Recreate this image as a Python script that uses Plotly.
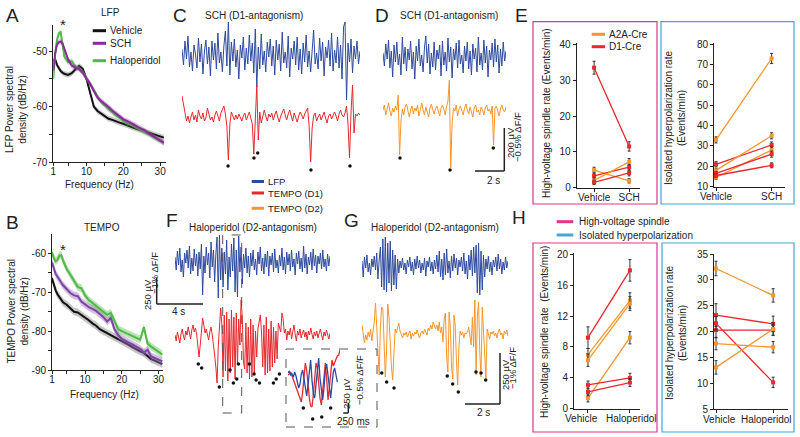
import plotly.graph_objects as go

W, H = 800, 437
def fx(p): return p / W
def fy(p): return 1 - p / H

# ---------------- DATA ----------------
freq = [1, 1.5, 2, 2.5, 3, 3.5, 4, 5, 6, 7, 8, 9, 10, 11, 12, 13, 14, 15, 16, 17, 18,
        19, 20, 21, 22, 23, 24, 25, 26, 27, 28, 29, 30, 31]

lfp_vehicle = [-51.8, -51.5, -52.5, -53.2, -53.6, -53.9, -54.1, -54.3, -54.0, -53.3, -52.7, -53.2,
               -55.0, -57.5, -60.0, -60.8, -61.3, -61.8, -62.2, -62.4, -62.7, -62.9, -63.1, -63.4,
               -63.6, -63.9, -64.1, -64.3, -64.5, -64.8, -65.0, -65.2, -65.4, -65.6]
lfp_sch = [-53.5, -50.5, -48.8, -48.4, -48.3, -48.6, -49.6, -51.5, -52.6, -53.0, -53.2, -53.9,
           -55.0, -55.9, -57.2, -58.4, -59.0, -59.5, -60.1, -60.7, -61.2, -61.8, -62.3, -62.6,
           -62.9, -63.3, -63.7, -64.0, -64.4, -64.9, -65.3, -65.7, -66.1, -66.5]
lfp_halo = [-55.0, -50.5, -48.0, -46.8, -46.6, -48.5, -51.0, -52.0, -51.8, -52.8, -53.2, -53.8,
            -54.8, -55.8, -57.0, -58.2, -59.2, -59.8, -60.5, -61.0, -61.6, -62.0, -62.5, -63.0,
            -63.2, -63.6, -64.0, -64.3, -64.7, -65.0, -65.4, -65.8, -66.2, -66.6]
lfp_sem = 0.5

tempo_vehicle = [-66.4, -68.0, -69.5, -70.5, -71.3, -72.0, -72.6, -73.2, -74.0, -75.0, -75.2, -75.8,
                 -76.4, -77.2, -78.0, -78.6, -79.5, -80.0, -80.4, -80.9, -81.6, -82.1, -82.5, -83.0,
                 -83.6, -84.2, -84.8, -85.2, -85.6, -86.5, -87.2, -87.6, -88.0, -88.5]
tempo_sch = [-62.3, -64.0, -65.3, -66.0, -66.6, -67.5, -68.2, -69.3, -70.2, -70.8, -71.0, -72.4,
             -73.2, -73.8, -74.3, -74.8, -75.6, -76.4, -77.5, -76.6, -79.5, -81.0, -82.0, -82.6,
             -83.0, -83.5, -84.0, -84.6, -85.5, -84.8, -86.5, -87.0, -87.4, -87.8]
tempo_halo = [-59.7, -61.2, -62.0, -61.6, -60.6, -60.4, -61.8, -64.0, -65.5, -67.0, -68.6, -69.0,
              -70.8, -72.0, -72.8, -73.5, -74.2, -75.0, -75.8, -75.3, -77.6, -79.5, -80.0, -80.4,
              -81.0, -81.2, -81.8, -82.2, -79.0, -83.2, -84.0, -84.6, -85.2, -86.0]
tempo_sem = 1.0

# Raw traces (arbitrary units)
C_lfp = [6, -10, 14, -4, 19, -12, 3, -16, 10, 1, -13, 17, -7, 11, -19, 4, 15, -9, 8, -21,
         14, -5, 12, -14, 22, -8, 3, -17, 9, 24, -11, 33, -20, 13, -6, 16, -12, 5, -24, 10,
         -3, 18, -15, 7, -9, 20, -6, 12, -18, 26, -32, 8, -14, 21, -10, 4, -17, 13, -2, 16,
         -11, 9, -20, 15, -5, 11, -16, 23, -8, 3, -13, 19, -22, 7, -4, 14, -10, 18, -15, 6,
         -19, 12, -7, 20, -12, 4, -17, 10, 25, -9, 2, -14, 17, -6, 13, -21, 8, -3, 15, -11,
         22, -16, 5, -8, 18, -13, 10, -24, 28, 33, -45, 12, -7, 16, -18, 9, -4, 14, -9, 4]
C_tempo = [22, 12, 4, -3, 2, -5, 1, 6, -2, 3, -4, 8, 2, -1, 5, -3, 0, 10, 4, -2,
           1, -4, 3, 7, 2, -3, 5, 9, 12, 4, -8, -42, -6, 6, 2, -2, 3, -1, 4, 0,
           -3, 2, 5, -2, 3, 6, 0, -6, -36, 4, 33, -22, 6, -5, 3, 8, 2, -3, 4, 1,
           5, -2, 3, 7, 1, -4, 2, 6, 9, 3, -2, 4, 8, 2, -3, 5, 1, -4, 2, 6,
           3, -1, 4, 7, 10, -8, -44, -10, 2, 5, -3, 1, 4, -2, 3, 6, 0, -5, 2, 4,
           -1, 3, 6, 2, -3, 4, 8, 3, 1, 5, 12, -6, -40, 6, 33, -15, 4, 2, 5, 3]
C_dots_x = [30.8, 48.1, 50.6, 86.2, 112.3]
C_dots_y = [-48, -40, -35, -52, -48]

D_lfp = [4, -9, 13, -2, 17, -11, 6, -20, 12, -5, 15, -8, 3, -18, 20, -7, 10, -14, 8, -3,
         16, -12, 5, -22, 11, -4, 18, -9, 2, -15, 9, 21, -6, 13, -17, 4, -10, 15, -13, 7,
         -2, 12, -19, 16, -8, 5, -14, 19, -5, 10, -21, 8, -3, 14, -11, 17, -7, 2, -16, 11,
         -4, 15, -12, 6, -18, 13, -2, 9, -15, 20, -8, 4, -13, 17, -6, 11, -20, 7, -3, 14,
         -10, 18, -5, 12, -16, 8, -9, 15, -4, 6]
D_tempo = [3, 8, -2, 4, 10, 2, -3, 5, 1, 7, 3, 18, -42, -8, 4, -2, 6, 9, 2, -4,
           3, 7, -1, 5, 2, 8, -3, 4, 10, 3, -2, 6, 1, -4, 5, 9, 3, -1, 4, 7,
           2, -3, 5, 8, 4, -2, 6, 12, 33, -55, -10, 5, 2, 8, -3, 4, 7, 1, -2, 5,
           9, 3, -1, 6, 2, -4, 5, 8, 1, 3, -2, 6, 3, -2, 5, 8, 2, 4, -1, 7,
           -32, 5, 7, 2, -3, 4, 8, 3, 1, 6]
D_dots_x = [12.3, 48.5, 79.8]
D_dots_y = [-45, -57, -35]

F_lfp = [5, -8, 11, -3, 14, -10, 2, -15, 9, -1, 12, -6, 16, -12, 4, -9, 13, -4, 8, -14,
         10, -7, 18, -33, 6, -11, 15, -3, 9, -16, 20, -5, 12, -20, 8, 25, -36, 27, -18, 14,
         -25, 10, -12, 22, -28, 5, -15, 18, -9, 24, -30, 12, -35, 26, -10, 15, -22, 8, -6, 14,
         -11, 6, -15, 9, -4, 12, -8, 3, -13, 10, -2, 15, -9, 4, -12, 8, -5, 11, -14, 6,
         -3, 9, -10, 13, -6, 2, -11, 7, -4, 14, -8, 5, -12, 10, -3, 8, -9, 12, -5, 3,
         -13, 9, -2, 11, -7, 4, -10, 16, -6, 8, -12, 5, -3, 10, -8, 13, -4, 7, -11, 6,
         -2, 9, -7, 12, -5, 3, -9, 8, -4, 6]
F_tempo = [2, -4, 5, 0, -6, 3, 8, 1, -3, 6, 2, 10, 4, -2, 7, 12, 5, 9, 3, -12,
           -20, -8, 6, 19, 12, 4, 8, 2, -3, 5, 10, 2, -6, -18, -30, -46, -10, 15, 29, 12,
           -40, 22, -34, 25, -44, 18, -36, 27, -30, 20, -42, 24, -28, 18, -8, 37, 20, -25, -32, 14,
           -36, 10, -42, 18, -40, 12, -38, 6, -20, 8, 15, 22, 5, -30, 12, -38, 20, -36, 8, -34,
           16, -30, 10, -26, 6, -22, 14, 10, 5, 24, 18, 4, 8, -3, 6, 2, 9, -2, 5, 12,
           3, -4, 6, 2, 8, -1, 4, 7, 0, 5, -3, 6, 2, 9, 3, -2, 5, 1, 6, -1,
           4, 8, 2, -3, 5, 1, 7, 3, -2, 4]
F_dots_x = [19.4, 22.2, 36.9, 45.8, 48.6, 51.4, 52.8, 61.9, 65.8, 67.5, 70.3, 81.9, 84.2, 86.9]
F_dots_y = [-27, -31, -50, -33, -46, -42, -27, -27, -37, -43, -46, -46, -42, -37]

G_lfp = [4, -12, 8, -3, 10, -7, 2, -10, 6, -2, 9, -5, 12, -14, 5, 18, -22, 26, -25, 28,
         -27, 22, -18, 24, -26, 15, -20, 10, -24, 6, -8, 4, -3, 7, -5, 2, -9, 5, -2, 8,
         -6, 3, -10, 6, -4, 9, -3, 5, -8, 2, -5, 7, -11, 4, -2, 8, -6, 3, -9, 5,
         -4, 10, -7, 14, -12, 6, -15, 12, -10, 16, -8, 4, -13, 9, -6, 11, -3, 7, -10, 5,
         -2, 8, -6, 12, -9, 4, -14, 10, -5, 15, -11, 18, -8, 20, -28, 22, -30, 14, -25, 10,
         -12, 6, -4, 9, -7, 3, -10, 5, -2, 8, -6, 11, -4, 6, -9, 3, -5, 8, -3, 4]
G_tempo = [12, 4, -6, 2, -3, 5, 0, 8, -4, 6, 15, 34, 5, -20, -38, 10, 30, 28, -10, -40,
           -15, 33, 20, -8, -30, -43, -10, 8, 4, 10, 14, 6, 3, -1, 4, 2, 5, 0, 3, 6,
           -2, 4, 1, 5, 3, 7, 2, -1, 4, 6, 3, 8, 5, 2, 9, 6, 12, 8, 15, 10,
           8, 12, 6, 15, 4, 10, -5, 18, 24, -20, -35, 25, 10, -30, -42, 22, 12, -25, -48, -10,
           6, 2, 5, -1, 4, 3, 5, 10, 3, -8, 20, -10, 37, -38, 20, 35, -15, -40, 30, 10,
           -20, -41, 8, 4, -2, 5, 3, 6, 1, 4, -1, 5, 8, 2, 4, -2, 6, 3, 7, 1]
G_dots_x = [16.1, 20.1, 26.1, 69.5, 73.9, 78.5, 92.9, 97.0, 100.8]
G_dots_y = [-36, -45, -51, -39, -47, -55, -35, -36, -43]

inset_tempo = [5, 6, 8, 4, 2, -2, -6, -10, -14, -18, -22, -12, 2, 17, 10, -5, -18, -26, -27, -15,
               5, 17, 12, -5, -18, -25, -10, 8, 17, 2, -20, -8, 10, 20, 14, 18, 22, 24, 25, 30]
inset_lfp = [7, 9, 5, 6, 3, 8, 4, -2, -8, -4, 6, 10, 2, -10, -16, -5, 10, 20, 0, -14,
             -18, -6, 12, 22, 2, -12, -20, -8, 10, 16, 4, -10, -18, -4, 8, 12, 6, -2]
inset_dots_x = [11.5, 18.5, 25.3, 32.0]
inset_dots_y = [-28, -39, -37, -28]

# Panel E / H (paired rates)
E_groups = ["A2A-Cre", "D1-Cre"]
E_categories = ["Vehicle", "SCH"]
H_categories = ["Vehicle", "Haloperidol"]
E_line_type = ["D1", "A2A", "D1", "A2A", "D1"]
E_hvs_vehicle = [33.5, 4.9, 3.3, 2.0, 1.5]
E_hvs_sch = [11.5, 1.9, 5.7, 7.2, 4.1]
E_hvs_err_v = [1.8, 0.8, 0.8, 0.8, 0.6]
E_hvs_err_s = [1.3, 0.6, 0.8, 0.9, 0.8]

E_ih_type = ["A2A", "D1", "A2A", "A2A", "D1", "D1"]
E_ih_vehicle = [33.0, 21.0, 18.0, 14.5, 16.5, 15.5]
E_ih_sch = [73.0, 30.5, 35.0, 28.0, 26.0, 20.5]
E_ih_err_v = [1.5, 1.3, 1.0, 1.0, 1.0, 1.0]
E_ih_err_s = [2.5, 1.5, 1.5, 1.5, 1.5, 1.2]

H_hvs_type = ["D1", "A2A", "A2A", "A2A", "D1", "D1"]
H_hvs_vehicle = [9.2, 7.0, 6.3, 1.4, 3.1, 2.2]
H_hvs_halo = [17.9, 14.0, 13.6, 9.2, 4.0, 3.4]
H_hvs_err_v = [1.4, 0.8, 0.8, 0.5, 0.5, 0.5]
H_hvs_err_h = [1.4, 1.0, 0.9, 0.8, 0.6, 0.5]

H_ih_type = ["A2A", "D1", "D1", "D1", "A2A", "A2A"]
H_ih_vehicle = [32.2, 23.2, 20.3, 21.6, 17.7, 13.1]
H_ih_halo = [27.0, 21.5, 20.3, 10.2, 17.0, 20.5]
H_ih_err_v = [1.4, 2.2, 1.5, 1.3, 1.2, 1.3]
H_ih_err_h = [1.3, 1.5, 1.0, 1.0, 1.1, 1.2]

# ---------------- STYLE ----------------
C_BLACK = "#111111"
C_PURPLE = "#8a2a9c"
C_PURPLE_B = "#7d44a8"
C_GREEN = "#52b848"
C_LFP = "#2e4a9f"
C_RED = "#e8282e"
C_ORANGE = "#f7962b"
C_MAG = "#e2348a"
C_CYAN = "#3fa8dc"
TYPE_COL = {"D1": C_RED, "A2A": C_ORANGE}
FONT = "Arial"

fig = go.Figure()
layout = {}
shapes = []
ann = []


def add_axes(n, xd, yd, xr, yr, visible=False, xkw=None, ykw=None):
    s = "" if n == 1 else str(n)
    xa = dict(domain=[fx(xd[0]), fx(xd[1])], range=xr, anchor="y" + s, visible=visible,
              showgrid=False, zeroline=False, fixedrange=True, automargin=False)
    ya = dict(domain=[fy(yd[1]), fy(yd[0])], range=yr, anchor="x" + s, visible=visible,
              showgrid=False, zeroline=False, fixedrange=True, automargin=False)
    if xkw:
        xa.update(xkw)
    if ykw:
        ya.update(ykw)
    layout["xaxis" + s] = xa
    layout["yaxis" + s] = ya
    return "x" + s, "y" + s


def vis_axis(**kw):
    d = dict(showline=True, linecolor="#222", linewidth=1, ticks="outside", ticklen=3,
             tickcolor="#222", tickangle=0,
             tickfont=dict(size=10, color="#222", family=FONT))
    d.update(kw)
    return d


def text(x, y, s, size=10, angle=0, color="#222", xanchor="center"):
    ann.append(dict(x=fx(x), y=fy(y), xref="paper", yref="paper", text=s, showarrow=False,
                    font=dict(size=size, color=color, family=FONT), textangle=angle,
                    xanchor=xanchor, yanchor="middle"))


def line(x0, y0, x1, y1, color="#222", width=1, dash=None):
    shapes.append(dict(type="line", xref="paper", yref="paper", x0=fx(x0), y0=fy(y0),
                       x1=fx(x1), y1=fy(y1), line=dict(color=color, width=width, dash=dash)))


def rect(x0, y0, x1, y1, color, width=1.2, dash=None):
    shapes.append(dict(type="rect", xref="paper", yref="paper", x0=fx(x0), y0=fy(y1),
                       x1=fx(x1), y1=fy(y0), line=dict(color=color, width=width, dash=dash)))


# ---------------- Panel A ----------------
xa, ya = add_axes(1, (53.3, 165.7), (25, 162), [1, 31.5], [-70, -45.3], True,
                  vis_axis(tickvals=[1, 5, 10, 15, 20, 25, 30],
                           ticktext=["1", "", "10", "", "20", "", "30"], ticklabelstandoff=-3),
                  vis_axis(tickvals=[-70, -65, -60, -55, -50],
                           ticktext=["-70", "", "-60", "", "-50"]))


def band(xa_, ya_, xs, ys, sem, col):
    up = [v + sem for v in ys]
    lo = [v - sem for v in ys]
    fig.add_trace(go.Scatter(x=xs, y=up, xaxis=xa_, yaxis=ya_, mode="lines",
                             line=dict(width=0, color=col), showlegend=False, hoverinfo="skip"))
    fig.add_trace(go.Scatter(x=xs, y=lo, xaxis=xa_, yaxis=ya_, mode="lines", fill="tonexty",
                             fillcolor=col, line=dict(width=0, color=col), showlegend=False,
                             hoverinfo="skip"))


for ys, c, bc in [(lfp_vehicle, C_BLACK, "rgba(150,150,150,0.5)"),
                  (lfp_halo, C_GREEN, "rgba(82,184,72,0.35)"),
                  (lfp_sch, C_PURPLE, "rgba(138,42,156,0.3)")]:
    band(xa, ya, freq, ys, lfp_sem, bc)
    fig.add_trace(go.Scatter(x=freq, y=ys, xaxis=xa, yaxis=ya, mode="lines",
                             line=dict(color=c, width=2), showlegend=False))

# ---------------- Panel B ----------------
xb, yb = add_axes(2, (52, 163), (234, 370), [1, 31.2], [-90, -55], True,
                  vis_axis(tickvals=[1, 5, 10, 15, 20, 25, 30],
                           ticktext=["1", "", "10", "", "20", "", "30"], ticklabelstandoff=-3),
                  vis_axis(tickvals=[-90, -85, -80, -75, -70, -65, -60],
                           ticktext=["-90", "", "-80", "", "-70", "", "-60"]))
for ys, c, bc in [(tempo_vehicle, C_BLACK, "rgba(150,150,150,0.55)"),
                  (tempo_sch, C_PURPLE_B, "rgba(160,110,190,0.45)"),
                  (tempo_halo, C_GREEN, "rgba(82,184,72,0.4)")]:
    band(xb, yb, freq, ys, tempo_sem, bc)
    fig.add_trace(go.Scatter(x=freq, y=ys, xaxis=xb, yaxis=yb, mode="lines",
                             line=dict(color=c, width=2), showlegend=False))


# ---------------- Trace panels ----------------
def trace_panel(n, xd, yd, yr, data, color, width=1.0):
    xs = list(range(len(data)))
    xn, yn = add_axes(n, xd, yd, [0, len(data) - 1], yr)
    fig.add_trace(go.Scatter(x=xs, y=data, xaxis=xn, yaxis=yn, mode="lines",
                             line=dict(color=color, width=width), showlegend=False,
                             hoverinfo="skip"))
    return xn, yn


def dots(xn, yn, xs, ys):
    fig.add_trace(go.Scatter(x=xs, y=ys, xaxis=xn, yaxis=yn, mode="markers",
                             marker=dict(color="#111", size=3.5), showlegend=False,
                             hoverinfo="skip"))


trace_panel(3, (182, 360), (15, 105), [-50, 40], C_lfp, C_LFP)
xn, yn = trace_panel(4, (182, 360), (80, 175), [-57, 38], C_tempo, C_RED)
dots(xn, yn, C_dots_x, C_dots_y)

trace_panel(5, (383, 506), (25, 90), [-33, 32], D_lfp, C_LFP)
xn, yn = trace_panel(6, (383, 506), (75, 175), [-62, 38], D_tempo, C_ORANGE)
dots(xn, yn, D_dots_x, D_dots_y)

trace_panel(7, (175, 330), (230, 302), [-40, 32], F_lfp, C_LFP)
xn, yn = trace_panel(8, (175, 330), (295, 395), [-58, 42], F_tempo, C_RED)
dots(xn, yn, F_dots_x, F_dots_y)

trace_panel(9, (362, 508), (233, 305), [-40, 32], G_lfp, C_LFP)
xn, yn = trace_panel(10, (362, 508), (295, 395), [-58, 42], G_tempo, C_ORANGE)
dots(xn, yn, G_dots_x, G_dots_y)

xi, yi = add_axes(11, (288, 340), (349, 427), [0, len(inset_tempo) - 1], [-47, 31])
fig.add_trace(go.Scatter(x=list(range(len(inset_tempo))), y=inset_tempo, xaxis=xi, yaxis=yi,
                         mode="lines", line=dict(color=C_RED, width=1.3), showlegend=False))
fig.add_trace(go.Scatter(x=list(range(len(inset_lfp))), y=inset_lfp, xaxis=xi, yaxis=yi,
                         mode="lines", line=dict(color=C_LFP, width=1.3), showlegend=False))
dots(xi, yi, inset_dots_x, inset_dots_y)


# ---------------- Panels E / H ----------------
def paired(n, xd, yd, xr, yr, yticks, labels, types, v0, v1, e0, e1):
    xn, yn = add_axes(n, xd, yd, xr, yr, True,
                      vis_axis(tickvals=[0, 1], ticktext=labels, ticklabelstandoff=-3),
                      vis_axis(tickvals=yticks))
    for t, a, b, ea, eb in zip(types, v0, v1, e0, e1):
        col = TYPE_COL[t]
        fig.add_trace(go.Scatter(x=[0, 1], y=[a, b], xaxis=xn, yaxis=yn, mode="lines+markers",
                                 line=dict(color=col, width=1.3),
                                 marker=dict(color=col, size=4, symbol="square"),
                                 error_y=dict(type="data", array=[ea, eb], color="#333",
                                              thickness=1, width=1.5),
                                 showlegend=False, cliponaxis=False))


paired(12, (576.7, 640), (43, 188), [-0.496, 1.31], [-0.1, 40.4], [0, 10, 20, 30, 40],
       E_categories, E_line_type, E_hvs_vehicle, E_hvs_sch, E_hvs_err_v, E_hvs_err_s)
paired(13, (714, 785), (43, 187), [-0.036, 1.24], [9.85, 80.6],
       [10, 20, 30, 40, 50, 60, 70, 80], E_categories, E_ih_type, E_ih_vehicle,
       E_ih_sch, E_ih_err_v, E_ih_err_s)
paired(14, (574, 640), (253.3, 409.3), [-0.333, 1.24], [-0.05, 20.1], [0, 4, 8, 12, 16, 20],
       ["", ""], H_hvs_type, H_hvs_vehicle, H_hvs_halo, H_hvs_err_v, H_hvs_err_h)
paired(15, (714, 788), (254, 409.3), [-0.035, 1.26], [5, 35], [5, 10, 15, 20, 25, 30, 35],
       ["", ""], H_ih_type, H_ih_vehicle, H_ih_halo, H_ih_err_v, H_ih_err_h)
# H category labels (shifted apart as in the original)
text(581.7, 418, H_categories[0], 10)
text(631, 418, H_categories[1], 10)
text(719, 419.5, H_categories[0], 10)
text(766.7, 419.5, H_categories[1], 10)

# ---------------- Decorations ----------------
rect(533, 21.7, 657, 204, C_MAG)
rect(661, 21.7, 794, 204, C_CYAN)
rect(533, 243, 657, 432, C_MAG)
rect(662, 243, 794, 432, C_CYAN)
rect(222.7, 235, 241.7, 413, "#555", 1, "dash")
rect(286, 349, 377, 427, "#555", 1, "dash")

line(504.3, 128, 504.3, 171, width=1.5)
line(475, 171, 504.3, 171, width=1.5)
line(156.7, 278, 156.7, 304, width=1.5)
line(156.7, 304, 203, 304, width=1.5)
line(500, 353, 500, 404, width=1.5)
line(465, 404, 500, 404, width=1.5)
line(348.3, 403, 348.3, 413, width=1.5)
line(343.3, 413, 348.3, 413, width=1.5)

text(493.3, 180, "2 s", 10)
text(510, 142, "200 µV", 9.5, -90)
text(517, 137, "−0.5% ΔF/F", 9.5, -90)
text(178, 311, "4 s", 10)
text(147, 295, "250 µV", 9.5, -90)
text(154, 273, "−1% ΔF/F", 9.5, -90)
text(483.3, 412, "2 s", 10)
text(505, 375, "250 µV", 9.5, -90)
text(512, 368, "−1% ΔF/F", 9.5, -90)
text(353, 421, "250 ms", 10)
text(346, 394, "250 µV", 9.5, -90)
text(359, 380, "−0.5% ΔF/F", 9.5, -90)

for s, x, y in [("A", 12, 15), ("B", 12, 222), ("C", 180, 15), ("D", 381.7, 15),
                ("E", 521.7, 15), ("F", 172, 220), ("G", 351, 220), ("H", 519, 218)]:
    text(x, y, s, 19)

text(110, 12, "LFP", 10)
text(102, 227, "TEMPO", 10)
text(254, 15, "SCH (D1-antagonism)", 10)
text(449, 15, "SCH (D1-antagonism)", 10)
text(253, 227, "Haloperidol (D2-antagonism)", 10)
text(435, 227, "Haloperidol (D2-antagonism)", 10)

text(63.3, 24, "*", 15)
text(63.3, 249, "*", 15)

text(16, 110, "LFP Power spectral<br>density (dB/Hz)", 10, -90)
text(99, 184, "Frequency (Hz)", 10)
text(17.5, 312, "TEMPO Power spectral<br>density (dB/Hz)", 10, -90)
text(104, 394, "Frequency (Hz)", 10)
text(547, 113, "High-voltage spindle rate (Events/min)", 10, -90)
text(675, 118, "Isolated hyperpolarization rate<br>(Events/min)", 10, -90)
text(544, 332, "High-voltage spindle rate  (Events/min)", 10, -90)
text(676, 333, "Isolated hyperpolarization rate<br>(Events/min)", 10, -90)

for lbl, col, y in [("Vehicle", C_BLACK, 30.7), ("SCH", C_PURPLE, 43.3), ("Haloperidol", C_GREEN, 60.7)]:
    line(92.7, y, 106, y, col, 3)
    text(108.3, y, lbl, 10, xanchor="left")
for lbl, col, y in [(E_groups[0], C_ORANGE, 34.3), (E_groups[1], C_RED, 46.7)]:
    line(591.7, y, 605, y, col, 3)
    text(606.7, y, lbl, 10, xanchor="left")
for lbl, col, y in [("LFP", C_LFP, 181.5), ("TEMPO (D1)", C_RED, 193), ("TEMPO (D2)", C_ORANGE, 208.3)]:
    line(251.7, y, 264, y, col, 3)
    text(266, y, lbl, 9.5, xanchor="left")
for lbl, col, y in [("High-voltage spindle", C_MAG, 221.7), ("Isolated hyperpolarization", C_CYAN, 235)]:
    line(556.7, y, 573.3, y, col, 3)
    text(576.7, y, lbl, 10, xanchor="left")

fig.update_layout(**layout)
fig.update_layout(width=W, height=H, margin=dict(l=0, r=0, t=0, b=0, pad=0, autoexpand=False),
                  paper_bgcolor="white", plot_bgcolor="rgba(0,0,0,0)",
                  font=dict(family=FONT, size=10, color="#222"),
                  shapes=shapes, annotations=ann, showlegend=False)
fig.write_html("out.html", config={"displayModeBar": False, "staticPlot": True},
               post_script="document.body.style.margin='0px';document.body.style.overflow='hidden';")
